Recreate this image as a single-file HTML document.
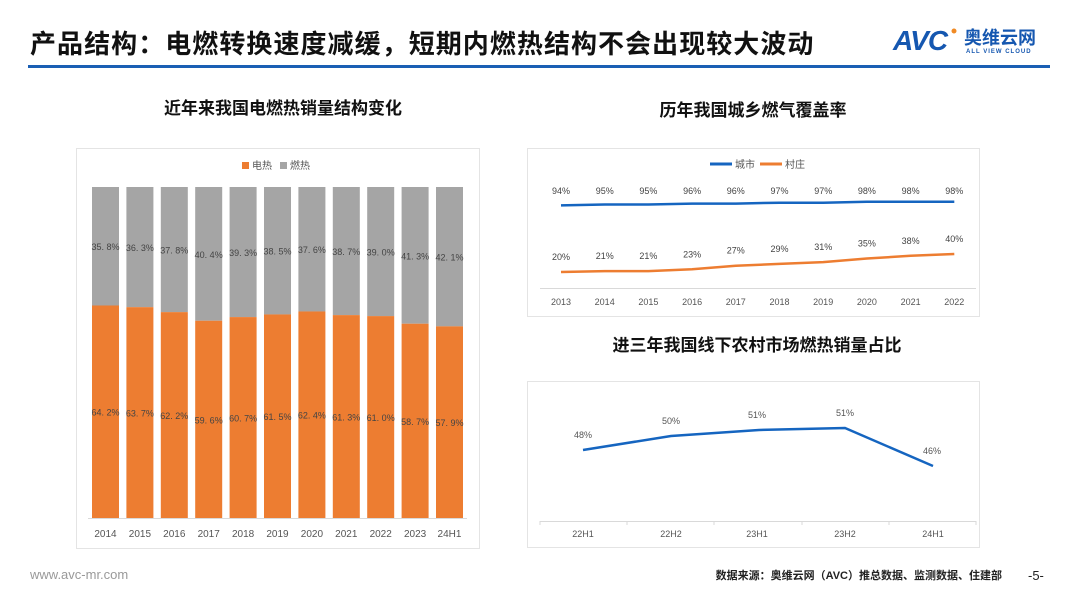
<!DOCTYPE html>
<html><head><meta charset="utf-8"><style>
html,body{margin:0;padding:0;background:#fff;}
svg{display:block;}
text{font-family:"Liberation Sans","Noto Sans CJK SC",sans-serif;}
</style></head><body>
<svg width="1080" height="608" viewBox="0 0 1080 608" xmlns="http://www.w3.org/2000/svg">
<!-- header -->
<text x="30" y="53" font-size="26" font-weight="bold" fill="#111" letter-spacing="1.05">产品结构：电燃转换速度减缓，短期内燃热结构不会出现较大波动</text>
<rect x="28" y="65" width="1022" height="3" fill="#1a5fb4"/>
<!-- logo -->
<text x="893" y="50" font-size="28" font-weight="bold" font-style="italic" fill="#1557b0" letter-spacing="-1">AVC</text>
<circle cx="954" cy="31" r="2.5" fill="#f08a24"/>
<text x="964" y="44" font-size="18" font-weight="bold" fill="#1557b0">奥维云网</text>
<text x="966" y="53" font-size="6" font-weight="bold" fill="#1557b0" letter-spacing="1">ALL VIEW CLOUD</text>

<!-- chart 1 -->
<text x="283" y="114" font-size="17" font-weight="bold" text-anchor="middle" fill="#111">近年来我国电燃热销量结构变化</text>
<rect x="76.5" y="148.5" width="403" height="400" fill="none" stroke="#e4e4e4"/>
<rect x="242" y="162" width="7" height="7" fill="#ed7d31"/>
<text x="252" y="169" font-size="10" fill="#555">电热</text>
<rect x="280" y="162" width="7" height="7" fill="#a5a5a5"/>
<text x="290" y="169" font-size="10" fill="#555">燃热</text>
<g id="bars"></g>
<line x1="88" y1="518.5" x2="467" y2="518.5" stroke="#d9d9d9"/>

<!-- chart 2 -->
<text x="753" y="116" font-size="17" font-weight="bold" text-anchor="middle" fill="#111">历年我国城乡燃气覆盖率</text>
<rect x="527.5" y="148.5" width="452" height="168" fill="none" stroke="#e4e4e4"/>
<line x1="710" y1="164" x2="732" y2="164" stroke="#1565c0" stroke-width="3"/>
<text x="735" y="168" font-size="10" fill="#555">城市</text>
<line x1="760" y1="164" x2="782" y2="164" stroke="#ed7d31" stroke-width="3"/>
<text x="785" y="168" font-size="10" fill="#555">村庄</text>
<line x1="540" y1="288.5" x2="976" y2="288.5" stroke="#d9d9d9"/>
<g id="line2"></g>

<!-- chart 3 -->
<text x="757" y="351" font-size="17" font-weight="bold" text-anchor="middle" fill="#111">进三年我国线下农村市场燃热销量占比</text>
<rect x="527.5" y="381.5" width="452" height="166" fill="none" stroke="#e4e4e4"/>
<line x1="540" y1="521.5" x2="976" y2="521.5" stroke="#d9d9d9"/>
<g stroke="#d9d9d9"><line x1="540" y1="521" x2="540" y2="525"/><line x1="627" y1="521" x2="627" y2="525"/><line x1="714" y1="521" x2="714" y2="525"/><line x1="802" y1="521" x2="802" y2="525"/><line x1="889" y1="521" x2="889" y2="525"/><line x1="976" y1="521" x2="976" y2="525"/></g>
<polyline points="583,450 671,436 759,430 845,428 933,466" fill="none" stroke="#1565c0" stroke-width="2.5"/>
<g font-size="9" fill="#555" text-anchor="middle">
<text x="583" y="438">48%</text><text x="671" y="424">50%</text><text x="757" y="418">51%</text><text x="845" y="416">51%</text><text x="932" y="454">46%</text>
<text x="583" y="537">22H1</text><text x="671" y="537">22H2</text><text x="757" y="537">23H1</text><text x="845" y="537">23H2</text><text x="933" y="537">24H1</text>
</g>

<!-- footer -->
<text x="30" y="579" font-size="13" fill="#999">www.avc-mr.com</text>
<text x="1002" y="579" font-size="11" font-weight="bold" fill="#222" text-anchor="end">数据来源：奥维云网（AVC）推总数据、监测数据、住建部</text>
<text x="1028" y="580" font-size="13" fill="#222">-5-</text>

<script>
(function(){
var ns="http://www.w3.org/2000/svg";
function el(p,t,a,txt){var e=document.createElementNS(ns,t);for(var k in a)e.setAttribute(k,a[k]);if(txt!=null)e.textContent=txt;p.appendChild(e);return e;}
var g=document.getElementById('bars');
var yrs=["2014","2015","2016","2017","2018","2019","2020","2021","2022","2023","24H1"];
var e=[64.2,63.7,62.2,59.6,60.7,61.5,62.4,61.3,61.0,58.7,57.9];
var top=187,bot=518,H=bot-top;
for(var i=0;i<11;i++){
 var x=92+i*34.4,w=27,h=H*e[i]/100;
 el(g,'rect',{x:x,y:top,width:w,height:H-h,fill:'#a5a5a5'});
 el(g,'rect',{x:x,y:bot-h,width:w,height:h,fill:'#ed7d31'});
 var g1=(100-e[i]).toFixed(1).replace('.','. ')+'%';
 var e1=e[i].toFixed(1).replace('.','. ')+'%';
 el(g,'text',{x:x+w/2,y:top+(H-h)/2+4,'font-size':9,fill:'#444','text-anchor':'middle'},g1);
 el(g,'text',{x:x+w/2,y:bot-h/2+4,'font-size':9,fill:'#444','text-anchor':'middle'},e1);
 el(g,'text',{x:x+w/2,y:537,'font-size':10,fill:'#555','text-anchor':'middle'},yrs[i]);
}
var g2=document.getElementById('line2');
var c=[94,95,95,96,96,97,97,98,98,98], v=[20,21,21,23,27,29,31,35,38,40];
var pc=[],pv=[];
for(var i=0;i<10;i++){
 var x=561+i*43.7;
 var yc=290-c[i]*0.9, yv=290-v[i]*0.9;
 pc.push(x+','+yc);pv.push(x+','+yv);
 el(g2,'text',{x:x,y:194,'font-size':9,fill:'#444','text-anchor':'middle'},c[i]+'%');
 el(g2,'text',{x:x,y:yv-12,'font-size':9,fill:'#444','text-anchor':'middle'},v[i]+'%');
 el(g2,'text',{x:x,y:305,'font-size':9,fill:'#555','text-anchor':'middle'},String(2013+i));
}
el(g2,'polyline',{points:pc.join(' '),fill:'none',stroke:'#1565c0','stroke-width':2.5});
el(g2,'polyline',{points:pv.join(' '),fill:'none',stroke:'#ed7d31','stroke-width':2.5});
})();
</script>
</svg>
</body></html>
